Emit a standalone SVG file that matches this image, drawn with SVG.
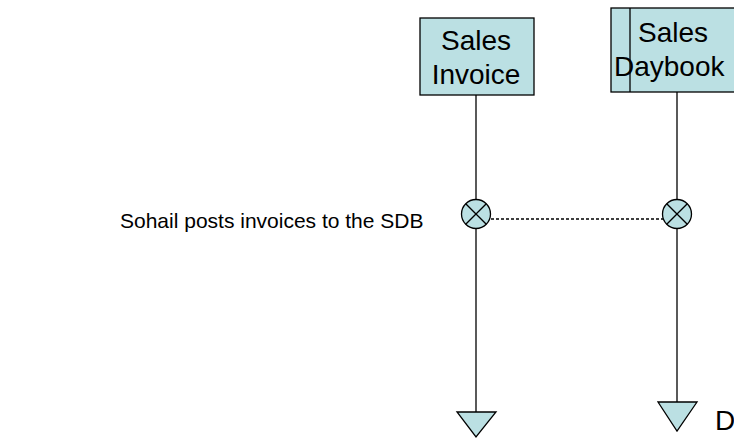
<svg xmlns="http://www.w3.org/2000/svg" width="734" height="439" viewBox="0 0 734 439">
<style>
.box{fill:#BBE0E3;stroke:#000;stroke-width:1.3}
.line{stroke:#000;stroke-width:1.3;fill:none}
.t{font-family:"Liberation Sans",Arial,sans-serif;font-size:28px;fill:#000}
.lbl{font-family:"Liberation Sans",Arial,sans-serif;font-size:21px;fill:#000}
</style>
<rect width="734" height="439" fill="#fff"/>
<g id="connectors">
<line class="line" x1="476" y1="95" x2="476" y2="412"/>
<line class="line" x1="677" y1="92" x2="677" y2="402"/>
<line class="line" x1="491" y1="219" x2="663" y2="219" stroke-dasharray="3,2"/>
</g>
<g id="sales-invoice">
<rect class="box" x="420" y="18" width="114" height="77"/>
<text class="t" x="476" y="50" text-anchor="middle">Sales</text>
<text class="t" x="476" y="84" text-anchor="middle">Invoice</text>
</g>
<g id="sales-daybook">
<rect class="box" x="611" y="8" width="130" height="84"/>
<line class="line" x1="630" y1="8" x2="630" y2="92"/>
<text class="t" x="638" y="42">Sales</text>
<text class="t" x="614" y="76">Daybook</text>
</g>
<g id="act-left">
<circle class="box" cx="476" cy="214" r="14.5"/>
<line class="line" x1="465.7" y1="203.7" x2="486.3" y2="224.3"/>
<line class="line" x1="486.3" y1="203.7" x2="465.7" y2="224.3"/>
</g>
<g id="act-right">
<circle class="box" cx="677" cy="214" r="14.5"/>
<line class="line" x1="666.7" y1="203.7" x2="687.3" y2="224.3"/>
<line class="line" x1="687.3" y1="203.7" x2="666.7" y2="224.3"/>
</g>
<g id="end-left">
<polygon class="box" points="457,412 496,412 476,437"/>
</g>
<g id="end-right">
<polygon class="box" points="658,402 697,402 677,431"/>
<text class="t" x="715" y="430">D</text>
</g>
<g id="label">
<text class="lbl" x="120" y="228">Sohail posts invoices to the SDB</text>
</g>
</svg>
